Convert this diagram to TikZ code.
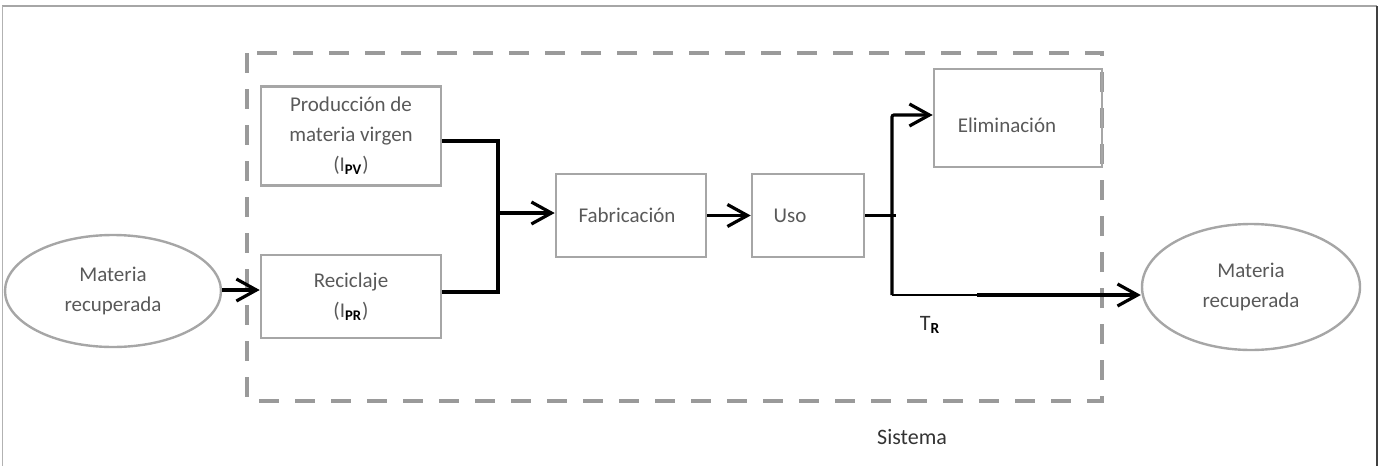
\documentclass[tikz,border=0pt]{standalone}
\usepackage{fontspec}
\setmainfont{Carlito}
\usetikzlibrary{arrows.meta,shapes.geometric}
\definecolor{boxgray}{HTML}{A6A6A6}
\definecolor{txtgray}{HTML}{595959}
\definecolor{dashgray}{HTML}{9A9A9A}
\tikzset{
  box/.style={draw=boxgray, line width=1.3pt, rectangle, inner sep=0pt,
    text=txtgray, align=center, font=\fontsize{10.5}{15}\selectfont},
  oval/.style={draw=boxgray, line width=1.2pt, ellipse, inner sep=0pt,
    text=txtgray, align=center, font=\fontsize{10.5}{15}\selectfont},
  txt/.style={text=txtgray, inner sep=0pt, font=\fontsize{10.5}{15}\selectfont},
  darktxt/.style={text=black!80, inner sep=0pt, font=\fontsize{11}{15}\selectfont},
  flow/.style={draw=black, line width=1.6pt},
  thinflow/.style={draw=black, line width=1.0pt},
  arr/.style={flow, -{Straight Barb[length=10pt,width=11pt,line width=1.6pt]}},
  sysline/.style={draw=dashgray, line width=1.6pt, dash pattern=on 10pt off 8pt},
}
\newcommand{\subb}[1]{\textsubscript{\color{black}\bfseries #1}}
\begin{document}
\begin{tikzpicture}[x=0.5pt,y=-0.5pt]
  \useasboundingbox (0,0) rectangle (1380,466);

  % page frame
  \draw[gray!70, line width=1pt] (2,6) -- (1377,6);
  \draw[gray!60, line width=0.5pt] (2,6) -- (2,466);
  \draw[black!75, line width=0.8pt] (1377,6) -- (1377,466);

  % system boundary
  \draw[sysline] (247,53) rectangle (1102,401);
  \node[darktxt] (sis) at (912,437) {Sistema};

  % process boxes
  \node[box, minimum width=90pt, minimum height=49.5pt] (pv) at (351,136)
    {Producción de\\materia virgen\\(I\subb{PV})};
  \node[box, minimum width=90pt, minimum height=41.5pt] (rec) at (351,296.5)
    {Reciclaje\\(I\subb{PR})};
  \node[box, minimum width=75pt, minimum height=41.5pt] (fab) at (631,215.5) {};
  \node[txt] (fabt) at (627,215.5) {Fabricación};
  \node[box, minimum width=56pt, minimum height=41.5pt] (uso) at (808,215.5) {};
  \node[txt] (usot) at (790,215.5) {Uso};
  \node[box, minimum width=84pt, minimum height=49pt] (elim) at (1018,118) {};
  \node[txt] (elimt) at (1007,125) {Eliminación};

  % recovered material
  \node[oval, minimum width=108pt, minimum height=56pt] (lmat) at (113,291)
    {Materia\\recuperada};
  \node[oval, minimum width=109pt, minimum height=63pt] (rmat) at (1251,287)
    {Materia\\recuperada};

  % flows
  \coordinate (j) at (498,213);
  \coordinate (k) at (892,215.5);
  \coordinate (ktop) at (892,115);
  \coordinate (kbot) at (892,295);
  \coordinate (m) at (977,295);

  \draw[arr] (lmat.east |- 0,290) -- (rec.west |- 0,290);
  \draw[flow] (pv.east |- 0,141) -| (j) |- (rec.east |- 0,292);
  \draw[arr] (j) -- (fab.west |- j);
  \draw[arr] (fab.east) -- (uso.west);
  \draw[flow] (uso.east) -- ([xshift=2pt]k);
  \draw[arr, rounded corners=1pt] (kbot) |- (elim.west |- ktop);
  \draw[thinflow] (kbot) -- (m);
  \draw[arr] (m) -- (rmat.west |- m);

  \node[darktxt] (tr) at (930,325) {T\subb{R}};
\end{tikzpicture}
\end{document}
